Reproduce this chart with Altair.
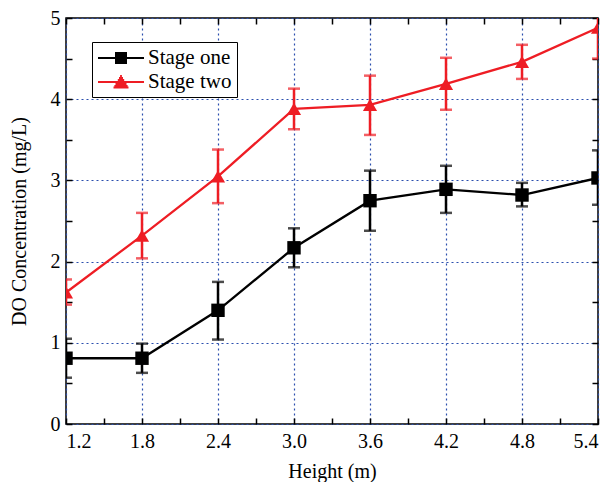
import altair as alt
import pandas as pd

# ---------------- data ----------------
heights = [1.2, 1.8, 2.4, 3.0, 3.6, 4.2, 4.8, 5.4]
stage_one = [0.81, 0.81, 1.40, 2.17, 2.75, 2.89, 2.82, 3.03]
stage_one_lo = [0.57, 0.63, 1.04, 1.93, 2.38, 2.60, 2.68, 2.70]
stage_one_hi = [1.05, 0.99, 1.75, 2.41, 3.12, 3.18, 2.97, 3.37]
stage_two = [1.62, 2.32, 3.05, 3.88, 3.93, 4.19, 4.46, 4.88]
stage_two_lo = [1.47, 2.04, 2.72, 3.63, 3.56, 3.87, 4.25, 4.50]
stage_two_hi = [1.78, 2.60, 3.38, 4.13, 4.29, 4.51, 4.67, 5.26]
series_names = ["Stage one", "Stage two"]
series_colors = ["#000000", "#ee1d24"]
x_ticks = [1.2, 1.8, 2.4, 3.0, 3.6, 4.2, 4.8, 5.4]
x_all_ticks = [1.2, 1.5, 1.8, 2.1, 2.4, 2.7, 3.0, 3.3, 3.6, 3.9, 4.2, 4.5, 4.8, 5.1, 5.4]
y_ticks = [0, 1, 2, 3, 4, 5]
y_all_ticks = [0, 0.5, 1, 1.5, 2, 2.5, 3, 3.5, 4, 4.5, 5]

rows = []
for name, vals, los, his in [
    (series_names[0], stage_one, stage_one_lo, stage_one_hi),
    (series_names[1], stage_two, stage_two_lo, stage_two_hi),
]:
    for h, v, lo, hi in zip(heights, vals, los, his):
        rows.append({"height": h, "value": v, "lo": lo, "hi": hi, "series": name})
df = pd.DataFrame(rows)

# ---------------- style ----------------
W, H = 532, 406
FONT = "Liberation Serif"

x_scale = alt.Scale(domain=[1.2, 5.4], nice=False, zero=False)
y_scale = alt.Scale(domain=[0, 5], nice=False, zero=False)
# data-driven domain (sorted: Stage one, Stage two)
color_scale = alt.Scale(range=series_colors)

main_x = alt.Axis(values=x_ticks, format=".1f", title="Height (m)", grid=True,
                  ticks=False, domain=False, labelPadding=7, titlePadding=10)
main_y = alt.Axis(values=y_ticks, format="d", title="DO Concentration (mg/L)", grid=True,
                  ticks=False, domain=False, labelPadding=6, titlePadding=21)


def inner(orient, values, offset):
    return alt.Axis(orient=orient, values=values, offset=offset, labels=False,
                    domain=False, grid=False, ticks=True, tickSize=6, tickWidth=1.5,
                    tickColor="black", title=None)


color_enc = alt.Color("series:N", scale=color_scale, legend=None)

base = alt.Chart(df)

rules = base.mark_rule(strokeWidth=2.5, clip=True).encode(
    x=alt.X("height:Q", scale=x_scale, axis=main_x),
    y=alt.Y("lo:Q", scale=y_scale, axis=main_y),
    y2="hi:Q",
    color=color_enc,
)

caps_lo = base.mark_tick(orient="horizontal", size=12, thickness=2.5, clip=True).encode(
    x=alt.X("height:Q", scale=x_scale, axis=inner("top", x_all_ticks, -H)),
    y=alt.Y("lo:Q", scale=y_scale, axis=inner("right", y_all_ticks, -W)),
    color=color_enc,
)

caps_hi = base.mark_tick(orient="horizontal", size=12, thickness=2.5, clip=True).encode(
    x=alt.X("height:Q", scale=x_scale, axis=None),
    y=alt.Y("hi:Q", scale=y_scale, axis=None),
    color=color_enc,
)

lines = base.mark_line(strokeWidth=2.3, clip=True).encode(
    x=alt.X("height:Q", scale=x_scale, axis=inner("bottom", x_all_ticks, -H)),
    y=alt.Y("value:Q", scale=y_scale, axis=inner("left", y_all_ticks, -W)),
    color=color_enc,
    detail="series:N",
)

squares = base.transform_filter(alt.datum.series == series_names[0]).mark_point(
    shape="square", filled=True, size=180, opacity=1, clip=True
).encode(
    x=alt.X("height:Q", scale=x_scale, axis=None),
    y=alt.Y("value:Q", scale=y_scale, axis=None),
    color=color_enc,
)

triangles = base.transform_filter(alt.datum.series == series_names[1]).mark_point(
    shape="triangle-up", filled=True, size=200, opacity=1, clip=True
).encode(
    x=alt.X("height:Q", scale=x_scale, axis=None),
    y=alt.Y("value:Q", scale=y_scale, axis=None),
    color=color_enc,
)

# legend symbols: a line with a marker drawn from stacked strokes
SQ_PATH = ("M-2.3,0H2.3M-0.6,-0.5H0.6M-0.6,-0.3H0.6M-0.6,-0.1H0.6"
           "M-0.6,0.1H0.6M-0.6,0.3H0.6M-0.6,0.5H0.6")
TRI_PATH = ("M-2.3,0H2.3M-0.09,-0.6H0.09M-0.2,-0.4H0.2M-0.32,-0.2H0.32"
            "M-0.43,0H0.43M-0.55,0.2H0.55M-0.66,0.4H0.66M-0.75,0.55H0.75")

legend_props = dict(
    title=None, orient="none", legendX=26, legendY=24, direction="vertical",
    fillColor="white", strokeColor="black", padding=5, cornerRadius=0,
    labelFont=FONT, labelFontSize=21, labelColor="black",
    labelOffset=16, symbolSize=400, symbolStrokeWidth=2, symbolOffset=13,
    symbolOpacity=1, rowPadding=3,
)

legend_layer = base.transform_filter("datum.height < 0").mark_point(
    filled=False, strokeWidth=2
).encode(
    x=alt.X("height:Q", scale=x_scale, axis=None),
    y=alt.Y("value:Q", scale=y_scale, axis=None),
    stroke=alt.Stroke("series:N", scale=alt.Scale(domain=series_names, range=series_colors),
                      legend=alt.Legend(**legend_props)),
    shape=alt.Shape("series:N", scale=alt.Scale(domain=series_names, range=[SQ_PATH, TRI_PATH]),
                    legend=alt.Legend(**legend_props)),
)

chart = alt.layer(
    rules, caps_lo, caps_hi, lines, squares, triangles, legend_layer
).resolve_axis(
    x="independent", y="independent"
).properties(
    width=W, height=H, autosize="none",
    padding={"left": 58, "top": 10, "right": 7, "bottom": 58},
).configure_view(
    stroke="black", strokeWidth=1.5
).configure_axis(
    labelFont=FONT, labelFontSize=20, labelColor="black",
    titleFont=FONT, titleFontSize=20, titleFontWeight="normal", titleColor="black",
    gridColor="#2b4fae", gridDash=[2, 3], gridWidth=1.2, gridOpacity=1,
)

chart.save("out.html", embed_options={"renderer": "svg", "actions": False})
